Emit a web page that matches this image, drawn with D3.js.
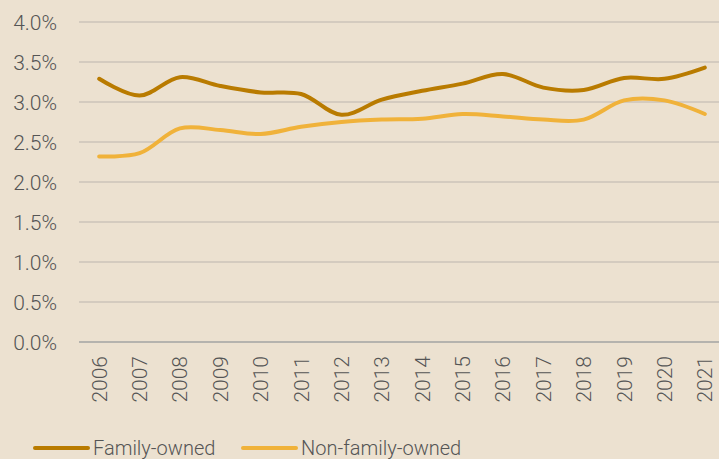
<!DOCTYPE html>
<html><head><meta charset="utf-8">
<script src="https://cdn.jsdelivr.net/npm/d3@7"></script>
<style>html,body{margin:0;padding:0;background:#ece1d0;overflow:hidden}</style>
</head><body><svg id="c" width="719" height="459"></svg>
<script>
const years = ["2006","2007","2008","2009","2010","2011","2012","2013","2014","2015","2016","2017","2018","2019","2020","2021"];
const familyOwned = [3.29,3.08,3.31,3.20,3.12,3.10,2.84,3.03,3.14,3.23,3.35,3.18,3.15,3.30,3.29,3.43];
const nonFamilyOwned = [2.32,2.36,2.67,2.65,2.60,2.69,2.75,2.78,2.79,2.85,2.82,2.78,2.78,3.02,3.02,2.85];
const yTicks = [0,0.5,1,1.5,2,2.5,3,3.5,4];
const seriesNames = ["Family-owned","Non-family-owned"];
const colors = ["#b97b00","#f0b23a"];

const svg = d3.select("#c");
svg.append("rect").attr("width",719).attr("height",459).attr("fill","#ece1d0");
const font = "Roboto, 'Liberation Sans', Arial, sans-serif";
const fw = 300;
const x = d3.scalePoint().domain(years).range([79,725]).padding(0.5);
const y = d3.scaleLinear().domain([0,4]).range([342,22]);

// gridlines
svg.append("g").selectAll("line").data(yTicks).join("line")
  .attr("x1",79).attr("x2",719)
  .attr("y1",d=>y(d)).attr("y2",d=>y(d))
  .attr("stroke",d=>d===0?"#a3a3a3":"#bbb6ae").attr("stroke-width",d=>d===0?1.6:1.2);

// y labels
svg.append("g").selectAll("text").data(yTicks).join("text")
  .attr("x",57).attr("y",d=>y(d)+7.5)
  .attr("text-anchor","end").attr("font-family",font).attr("font-weight",fw).attr("font-size",21)
  .attr("fill","#555").text(d=>d.toFixed(1)+"%");

// x labels
svg.append("g").selectAll("text").data(years).join("text")
  .attr("transform",d=>`translate(${x(d)+7.5},356) rotate(-90)`)
  .attr("text-anchor","end").attr("font-family",font).attr("font-weight",fw).attr("font-size",21)
  .attr("fill","#555").text(d=>d);

const line = d3.line().x((d,i)=>x(years[i])).y(d=>y(d)).curve(d3.curveCatmullRom.alpha(0.5));
[familyOwned, nonFamilyOwned].forEach((s,k)=>{
  svg.append("path").attr("d",line(s)).attr("fill","none")
    .attr("stroke",colors[k]).attr("stroke-width",4).attr("stroke-linecap","round");
});

// legend
const legX = [35,243];
seriesNames.forEach((n,k)=>{
  svg.append("line").attr("x1",legX[k]).attr("x2",legX[k]+53).attr("y1",448).attr("y2",448)
    .attr("stroke",colors[k]).attr("stroke-width",4).attr("stroke-linecap","round");
  svg.append("text").attr("x",legX[k]+58).attr("y",455).attr("font-family",font).attr("font-weight",fw)
    .attr("font-size",20).attr("fill","#555").text(n);
});
</script></body></html>
